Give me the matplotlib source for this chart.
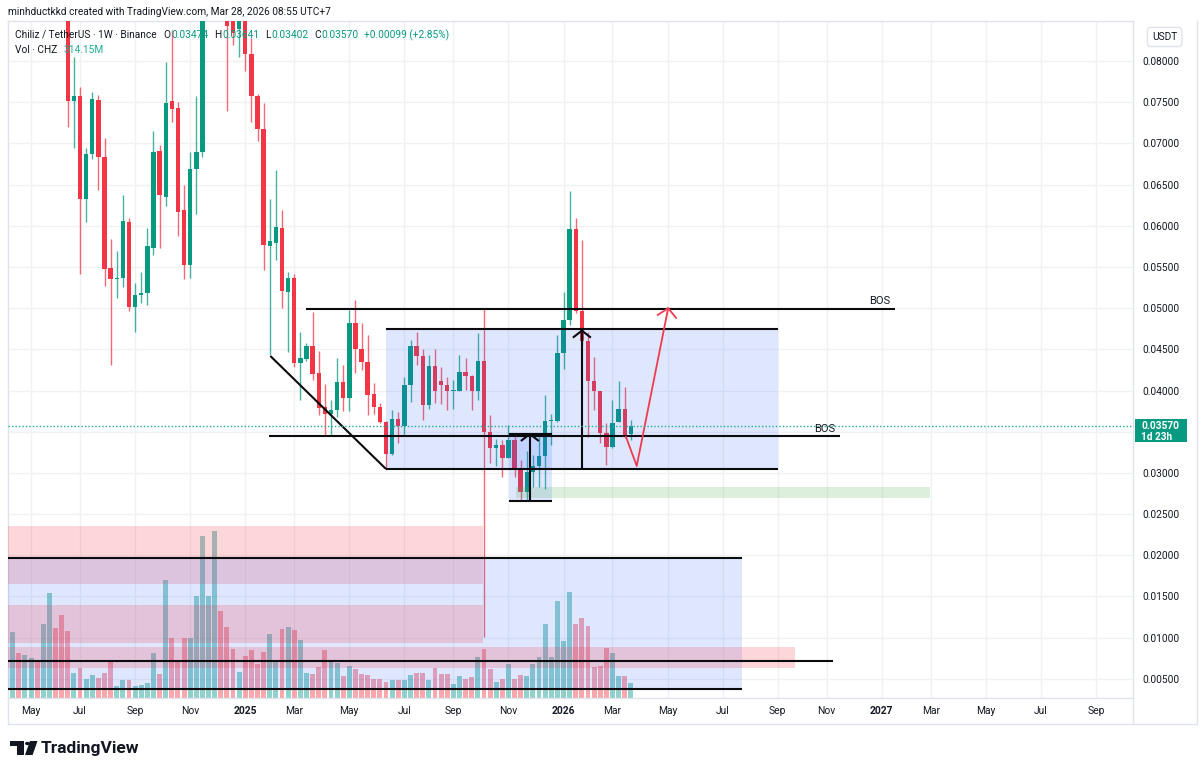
import numpy as np
import pandas as pd
import matplotlib
matplotlib.use("Agg")
import matplotlib.pyplot as plt
import matplotlib.transforms as mtransforms
from matplotlib.patches import Rectangle, Polygon, Circle

plt.rcParams['font.family'] = ['Roboto', 'DejaVu Sans']

W, H = 1200, 772
UP = '#089981'
DOWN = '#f23645'
TXT = '#131722'
GRID = '#f0f1f3'

# weekly CHZ/USDT candles, first bar = week of 2024-04-15
start = pd.Timestamp("2024-04-15")
opens = [.1120, .1150, .1050, .1090, .1120, .1060, .1160, .1220, .1080, .0940,
         .0751, .0758, .0633, .0687, .0753, .0684, .0549, .0535, .0536, .0604,
         .0501, .0516, .0518, .0573, .0691, .0635, .0751, .0743, .0619, .0552,
         .0669, .0689, .0890, .1010, .1130, .0960, .0860, .0839, .0856, .0809,
         .0758, .0718, .0576, .0579, .0597, .0520, .0537, .0433, .0438, .0454,
         .0421, .0380, .0372, .0376, .0410, .0391, .0482, .0451, .0435, .0396,
         .0380, .0362, .0323, .0365, .0357, .0407, .0454, .0442, .0382, .0430,
         .0412, .0407, .0399, .0399, .0422, .0418, .0399, .0436, .0350, .0330,
         .0334, .0318, .0340, .0305, .0277, .0301, .0308, .0321, .0363, .0363,
         .0445, .0486, .0596, .0497, .0460, .0412, .0399, .0348, .0332, .0362,
         .0377, .03474]
highs = [.1220, .1190, .1120, .1160, .1150, .1200, .1320, .1240, .1100, .0960,
         .0805, .0769, .0694, .0763, .0759, .0707, .0584, .0569, .0637, .0610,
         .0530, .0544, .0597, .0715, .0698, .0799, .0838, .0750, .0649, .0690,
         .0757, .0905, .1040, .1230, .1160, .0990, .0875, .0880, .0870, .0828,
         .0760, .0749, .0633, .0668, .0619, .0544, .0541, .0471, .0458, .0495,
         .0448, .0408, .0388, .0439, .0431, .0498, .0510, .0482, .0467, .0409,
         .0385, .0363, .0376, .0374, .0416, .0461, .0471, .0451, .0443, .0450,
         .0428, .0417, .0413, .0443, .0440, .0419, .0470, .0499, .0370, .0341,
         .0340, .0358, .0346, .0316, .0326, .0322, .0345, .0395, .0372, .0467,
         .0520, .0642, .0609, .0583, .0471, .0441, .0399, .0360, .0389, .0412,
         .0404, .03641]
lows = [.0980, .1010, .0990, .1040, .1040, .1030, .1120, .1050, .0920, .0720,
        .0695, .0542, .0605, .0681, .0643, .0527, .0431, .0512, .0526, .0497,
        .0471, .0506, .0504, .0565, .0573, .0624, .0726, .0587, .0535, .0537,
        .0614, .0684, .0870, .0980, .0900, .0739, .0820, .0805, .0788, .0726,
        .0703, .0546, .0443, .0559, .0500, .0447, .0428, .0389, .0436, .0413,
        .0370, .0346, .0346, .0368, .0375, .0375, .0421, .0425, .0370, .0372,
        .0361, .0306, .0322, .0336, .0346, .0386, .0431, .0364, .0378, .0385,
        .0384, .0376, .0378, .0399, .0401, .0376, .0388, .0101, .0312, .0308,
        .0295, .0318, .0295, .0267, .0267, .0283, .0283, .0281, .0334, .0362,
        .0426, .0480, .0494, .0455, .0344, .0376, .0336, .0310, .0330, .0362,
        .0342, .03402]
closes = [.1150, .1050, .1090, .1120, .1060, .1160, .1220, .1080, .0940, .0751,
          .0758, .0633, .0687, .0754, .0683, .0548, .0535, .0536, .0606, .0501,
          .0516, .0518, .0575, .0689, .0637, .0749, .0742, .0617, .0552, .0669,
          .0690, .0890, .1010, .1130, .0960, .0843, .0834, .0856, .0809, .0758,
          .0718, .0577, .0581, .0599, .0521, .0536, .0433, .0439, .0454, .0420,
          .0379, .0372, .0376, .0410, .0391, .0482, .0451, .0435, .0395, .0380,
          .0362, .0323, .0365, .0357, .0407, .0454, .0442, .0382, .0430, .0400,
          .0407, .0399, .0400, .0422, .0418, .0399, .0436, .0350, .0330, .0334,
          .0318, .0340, .0304, .0277, .0301, .0308, .0321, .0363, .0364, .0445,
          .0486, .0596, .0497, .0460, .0412, .0399, .0348, .0332, .0361, .0377,
          .0346, .03570]
# volume in millions of CHZ
volumes = [1382, 942, 900, 838, 775, 1550, 2199, 1466, 1738, 1403,
           524, 628, 398, 482, 419, 524, 796, 251, 377, 377,
           251, 272, 314, 942, 503, 2471, 1257, 796, 1257, 1257,
           2136, 3392, 2136, 3497, 1822, 1487, 1026, 544, 880, 1005,
           712, 963, 1340, 775, 1445, 1487, 1424, 1215, 524, 503,
           649, 1005, 796, 733, 461, 670, 607, 503, 482, 398,
           398, 335, 377, 377, 377, 482, 524, 524, 377, 628,
           503, 503, 293, 461, 398, 440, 859, 1026, 607, 335,
           398, 712, 398, 482, 461, 712, 859, 1550, 859, 2031,
           1194, 2220, 1550, 1675, 1508, 649, 670, 1047, 942, 461,
           461, 314.15]

last_price = 0.03570
price_ticks = [0.005, 0.010, 0.015, 0.020, 0.025, 0.030, 0.035, 0.040,
               0.045, 0.050, 0.055, 0.060, 0.065, 0.070, 0.075, 0.080]


def fx(px):
    return px / W


def fy(py):
    return 1 - py / H


o = np.array(opens)
h = np.array(highs)
l = np.array(lows)
c = np.array(closes)
x = np.arange(len(o))
up = c >= o
colors = np.where(up, UP, DOWN)

fig = plt.figure(figsize=(W / 100, H / 100), dpi=100)
fig.patch.set_facecolor('white')
rect = [fx(8), fy(698), fx(1133) - fx(8), fy(21) - fy(698)]

vax = fig.add_axes(rect, zorder=0)
ax = fig.add_axes(rect, zorder=1, sharex=vax)
ax.patch.set_alpha(0)

xlim = (-0.768, 183.05)
ylim = (0.002671, 0.08486)
vax.set_xlim(*xlim)
ax.set_ylim(*ylim)
vax.set_ylim(0, 677 * 314.15 / 15)

# month ticks: first weekly bar of every second month
months = pd.date_range("2024-05-01", "2027-09-01", freq="2MS")
tick_pos, tick_lab = [], []
for d in months:
    fm = d + pd.Timedelta(days=(7 - d.weekday()) % 7)
    tick_pos.append((fm - start).days / 7)
    tick_lab.append(str(d.year) if d.month == 1 else d.strftime("%b"))

# grid (under everything)
for t in tick_pos:
    vax.axvline(t, color=GRID, lw=1, zorder=0)
blend = mtransforms.blended_transform_factory(vax.transAxes, ax.transData)
for p in price_ticks:
    vax.plot([0, 1], [p, p], transform=blend, color=GRID, lw=1, zorder=0)

# volume
vax.bar(x, volumes, width=0.8, color=np.where(up, '#26a69a', '#f7525f'),
        alpha=0.5, linewidth=0, zorder=2)
vax.set_yticks([])
vax.tick_params(axis='x', length=0, labelbottom=False)
for s in vax.spines.values():
    s.set_visible(False)

# candles
ax.vlines(x, l, h, colors=colors, lw=1, alpha=0.75, zorder=3)
body = np.maximum(np.abs(c - o), 0.00012)
ax.bar(x, body, bottom=np.minimum(o, c), width=0.72, color=colors,
       linewidth=0, zorder=4)

# --- drawings ---
BLUE = (41 / 255, 98 / 255, 1.0, 0.15)
RED = (242 / 255, 54 / 255, 69 / 255, 0.2)
GREEN = (76 / 255, 175 / 255, 80 / 255, 0.2)
LINE = dict(color='#0b0b0f', lw=1.5, zorder=6, solid_capstyle='butt')


def box(x0, x1, p0, p1, fc):
    ax.add_patch(Rectangle((x0, p0), x1 - x0, p1 - p0, facecolor=fc,
                           edgecolor='none', zorder=5))


# zones down in the volume area
box(-5, 76.8, 0.01651, 0.02359, RED)
box(-5, 119.2, 0.00376, 0.01963, BLUE)
box(-5, 76.8, 0.00935, 0.01396, RED)
box(-5, 127.8, 0.00631, 0.00886, RED)
ax.plot([-5, 119.2], [0.01963, 0.01963], **LINE)
ax.plot([-5, 119.2], [0.00376, 0.00376], **LINE)
ax.plot([-5, 134.0], [0.0072, 0.0072], **LINE)

# range box
box(61.0, 125.0, 0.03047, 0.04743, BLUE)
ax.plot([61.0, 125.0], [0.04743, 0.04743], **LINE)
ax.plot([61.0, 125.0], [0.03047, 0.03047], **LINE)
ax.plot([42.1, 61.0], [0.04419, 0.03047], **LINE)

# BOS lines
ax.plot([48.0, 144.2], [0.0499, 0.0499], **LINE)
ax.text(141.7, 0.0502, "BOS", ha='center', va='bottom', fontsize=8,
        color=TXT, zorder=7)
ax.plot([41.9, 135.2], [0.03448, 0.03448], **LINE)
ax.text(132.7, 0.03475, "BOS", ha='center', va='bottom', fontsize=8,
        color=TXT, zorder=7)

# sweep box + demand zone
box(81.1, 88.1, 0.02662, 0.03472, BLUE)
ax.plot([81.1, 88.1], [0.03472, 0.03472], **LINE)
ax.plot([81.1, 88.1], [0.02662, 0.02662], **LINE)
box(82.2, 149.9, 0.0270, 0.02832, GREEN)


def up_arrow(xc, p0, p1):
    ax.plot([xc, xc], [p0, p1], **LINE)
    ax.plot([xc - 1.47, xc, xc + 1.47], [p1 - 0.00085, p1, p1 - 0.00085],
            **LINE)


up_arrow(84.5, 0.02662, 0.03472)
up_arrow(93.0, 0.0306, 0.04727)

# projected path
ax.plot([100.2, 101.96, 107.1], [0.03439, 0.03084, 0.04999],
        color='#ee3b50', lw=1.3, zorder=6)
ax.plot([105.4, 107.1, 108.4], [0.04917, 0.04999, 0.04881],
        color='#ee3b50', lw=1.3, zorder=6)

# last price line
ax.axhline(last_price, color='#22ab94', lw=1, ls=(0, (1, 1.5)), zorder=6)

# axes
ax.set_xticks(tick_pos)
ax.set_xticklabels(tick_lab)
for t in ax.get_xticklabels():
    if t.get_text().isdigit():
        t.set_fontweight('bold')
ax.tick_params(axis='x', length=0, pad=6, labelsize=7.4, colors=TXT)
ax.yaxis.tick_right()
ax.set_yticks([p for p in price_ticks if abs(p - 0.035) > 1e-9])
ax.set_yticklabels([f"{p:.5f}" for p in price_ticks if abs(p - 0.035) > 1e-9])
ax.tick_params(axis='y', length=0, pad=7, labelsize=7.3, colors=TXT)
for s in ax.spines.values():
    s.set_color('#e0e3eb')
    s.set_linewidth(1)

# outer frame: time axis and price axis
for xs, ys in [([8, 1197], [724, 724]), ([1197, 1197], [21, 724]),
               ([1133, 1133], [698, 724]), ([8, 8], [698, 724])]:
    fig.add_artist(plt.Line2D([fx(v) for v in xs], [fy(v) for v in ys],
                              color='#e0e3eb', lw=1))

# last price label on the scale
py = H - ax.transData.transform((0, last_price))[1]
fig.add_artist(Rectangle((fx(1135), fy(py + 16)), fx(52), 23 / H,
                         facecolor=UP, edgecolor='none'))
fig.text(fx(1141), fy(py), f"{last_price:.5f}", color='white', fontsize=7.3,
         fontweight='bold', va='center', ha='left')
fig.text(fx(1141), fy(py + 11), "1d 23h", color='white', fontsize=7.3,
         fontweight='bold', va='center', ha='left')

# USDT box
fig.text(fx(1152), fy(37), "USDT", color=TXT, fontsize=7.3, va='center',
         ha='left', bbox=dict(boxstyle='round,pad=0.45,rounding_size=0.3',
                              fc='white', ec='#e0e3eb', lw=1))

# legend texts, laid out piece by piece
renderer = fig.canvas.get_renderer()


def text_row(pieces, x0, y0, size):
    cur = x0
    for s, col, gap in pieces:
        t = fig.text(fx(cur), fy(y0), s, color=col, fontsize=size,
                     va='center', ha='left', zorder=10)
        bb = t.get_window_extent(renderer)
        cur = bb.x1 + gap


fig.text(fx(8), fy(12), "minhductkkd created with TradingView.com, Mar 28, 2026 08:55 UTC+7",
         color=TXT, fontsize=7.3, va='center', ha='left')
text_row([("Chiliz / TetherUS · 1W · Binance", TXT, 7),
          ("O", TXT, 0.5), (f"{opens[-1]:.5f}", UP, 6),
          ("H", TXT, 0.5), (f"{highs[-1]:.5f}", UP, 6),
          ("L", TXT, 0.5), (f"{lows[-1]:.5f}", UP, 6),
          ("C", TXT, 0.5), (f"{closes[-1]:.5f}", UP, 6),
          ("+0.00099 (+2.85%)", UP, 0)], 15, 35, 7.3)
text_row([("Vol · CHZ", TXT, 6), (f"{volumes[-1]:.2f}M", '#22ab94', 0)],
         15, 50, 7.3)

# TradingView logo
logo = '#131722'
fig.add_artist(Rectangle((fx(9.6), fy(746)), 14.2 / W, 5 / H, fc=logo, ec='none'))
fig.add_artist(Rectangle((fx(16.5), fy(755)), 7.3 / W, 14 / H, fc=logo, ec='none'))
fig.add_artist(Circle((fx(27.6), fy(743.5)), 2.6 / W, fc=logo, ec='none'))
fig.add_artist(Polygon([(fx(30), fy(741)), (fx(37.5), fy(741)),
                        (fx(32.6), fy(755)), (fx(25), fy(755))],
                       closed=True, fc=logo, ec='none'))
fig.text(fx(41), fy(748), "TradingView", color=logo, fontsize=12.5,
         fontweight='bold', va='center', ha='left')

fig.savefig("out.png", dpi=100)
